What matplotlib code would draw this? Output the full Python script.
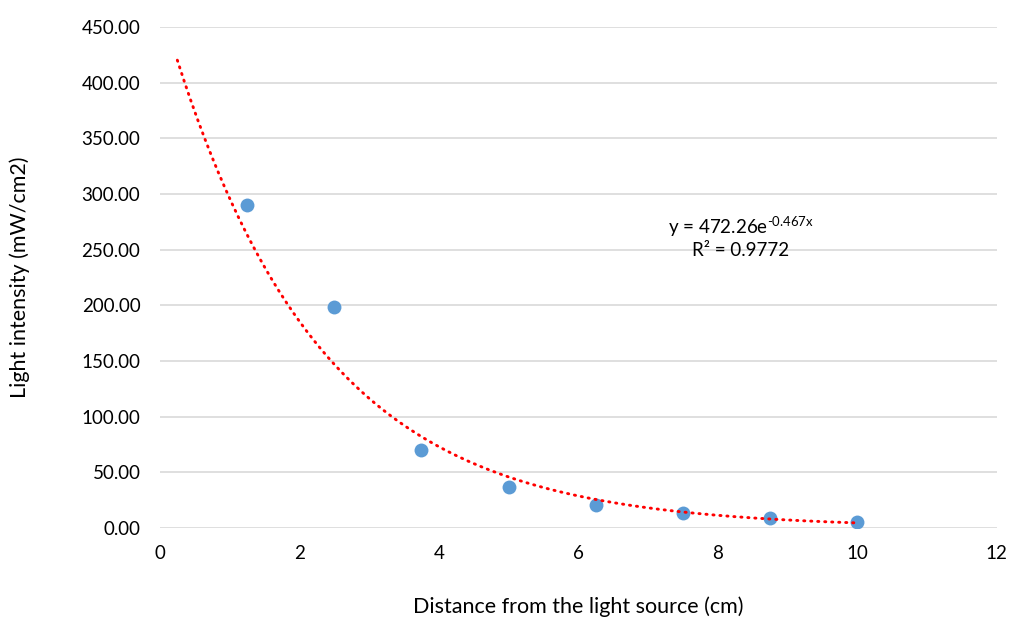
import numpy as np
import matplotlib
matplotlib.use('Agg')
import matplotlib.pyplot as plt

plt.rcParams['font.family'] = ['Lato', 'DejaVu Sans']
plt.rcParams['axes.unicode_minus'] = False

# ── Data ──
distance = [1.25, 2.5, 3.75, 5.0, 6.25, 7.5, 8.75, 10.0]
intensity = [290.0, 198.0, 70.0, 36.5, 20.5, 13.5, 9.0, 5.3]

# exponential trendline as reported on the chart
coef_a, coef_b = 472.26, -0.467
r_squared = 0.9772
trend_x = np.linspace(0.25, 10.0, 200)
trend_y = coef_a * np.exp(coef_b * trend_x)

x_ticks = [0, 2, 4, 6, 8, 10, 12]
y_ticks = [0, 50, 100, 150, 200, 250, 300, 350, 400, 450]

# ── Plot ──
fig = plt.figure(figsize=(10.12, 6.21), dpi=100)
ax = fig.add_axes([0.158, 0.150, 0.827, 0.8065])

ax.scatter(distance, intensity, s=100, color='#5B9BD5', zorder=3, linewidths=0)
ax.plot(trend_x, trend_y, color='#FF0000', linewidth=2.1,
        linestyle=(0, (0.4, 2.0)), dash_capstyle='round', zorder=4)

ax.set_xlim(0, 12)
ax.set_ylim(0, 450)
ax.set_xticks(x_ticks)
ax.set_yticks(y_ticks)
ax.set_yticklabels([f'{v:.2f}' for v in y_ticks])
ax.yaxis.grid(True, color='#D9D9D9', linewidth=1.2)
ax.set_axisbelow(True)
for sp in ax.spines.values():
    sp.set_visible(False)
ax.tick_params(length=0, labelsize=13.5, colors='#000000')
ax.tick_params(axis='y', pad=14)
ax.tick_params(axis='x', pad=12)

ax.set_xlabel('Distance from the light source (cm)', fontsize=15.5, va='center')
ax.set_ylabel('Light intensity (mW/cm2)', fontsize=15.5, va='center')
ax.xaxis.set_label_coords(0.5, -0.158)
ax.yaxis.set_label_coords(-0.167, 0.5)

# hyphen (U+2010) keeps mathtext from turning it into a long minus
expo = f'{coef_b}x'.replace('-', '\u2010')
ax.text(8.33, 271, f'y = {coef_a:.2f}e$^{{\\mathregular{{{expo}}}}}$',
        ha='center', va='center', fontsize=13.5)
ax.text(8.33, 249, f'R² = {r_squared}', ha='center', va='center', fontsize=13.5)

plt.savefig('out.png', dpi=100)
plt.close()
